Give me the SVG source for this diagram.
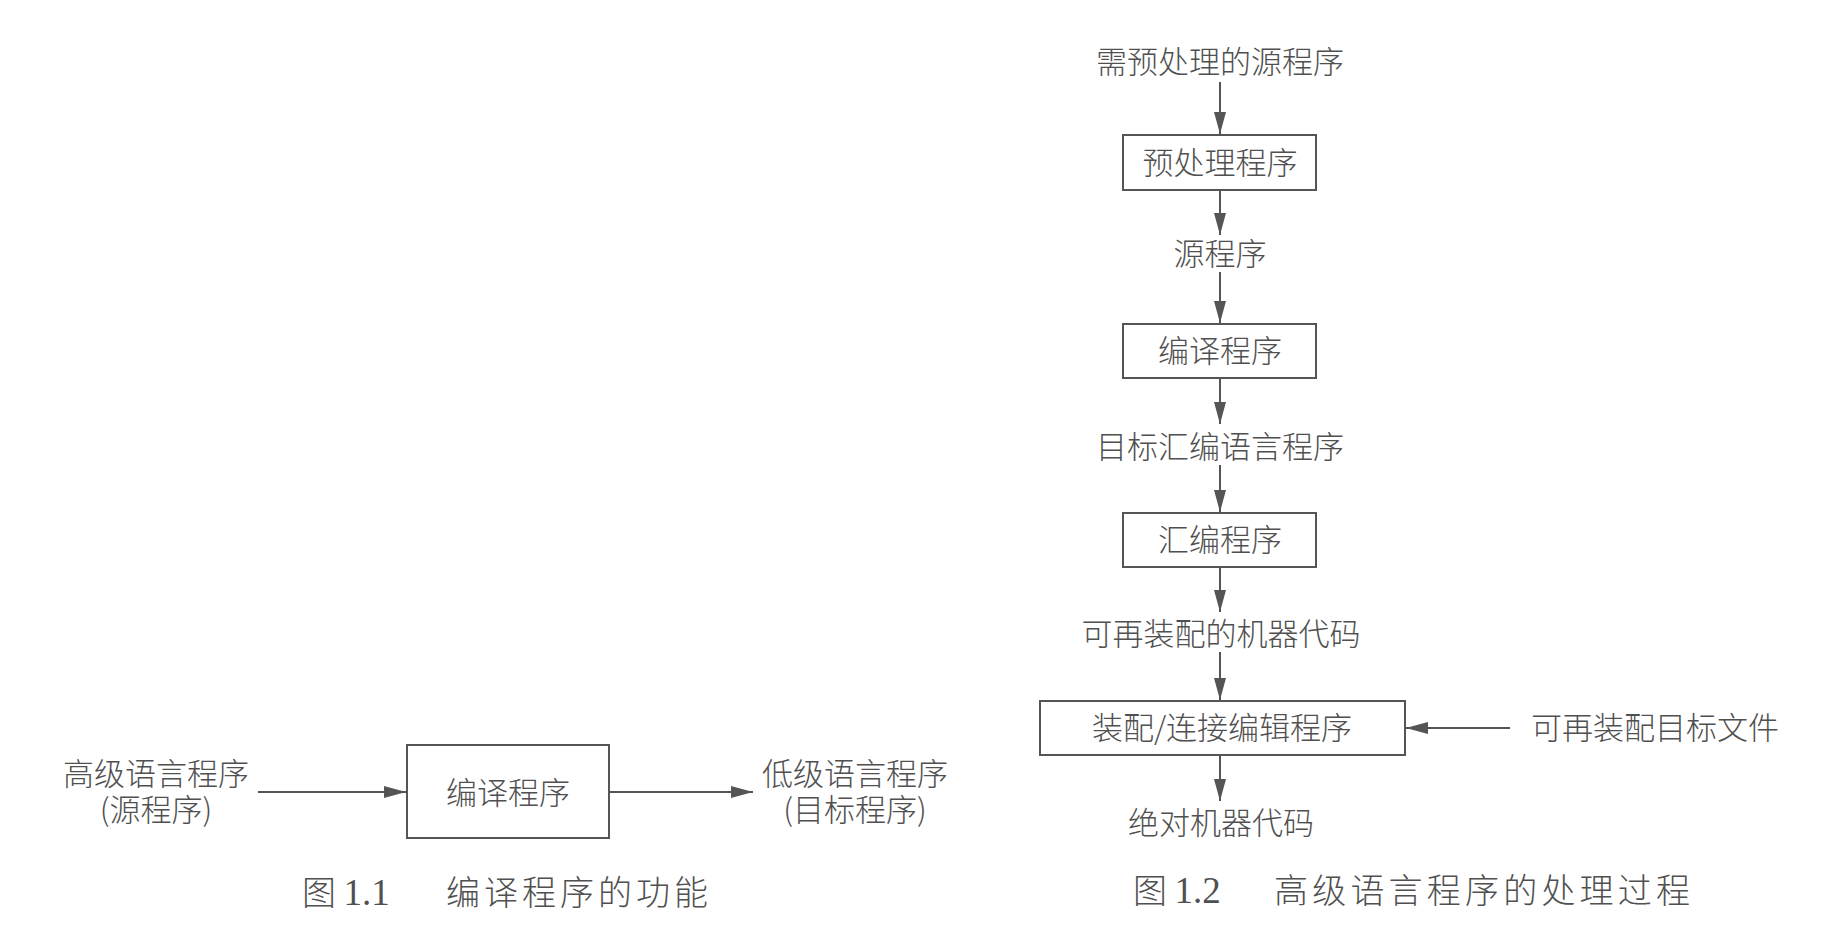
<svg xmlns="http://www.w3.org/2000/svg" width="1836" height="927" viewBox="0 0 1836 927">
<style>
text{font-family:"Noto Sans CJK SC","Noto Sans",sans-serif;font-size:31px;fill:#505050;text-anchor:middle;font-weight:300}
.cap{font-size:34px;text-anchor:start}
.num{font-family:"Liberation Serif",serif;font-size:37px}
.box{fill:none;stroke:#555;stroke-width:2}
.ln{stroke:#555;stroke-width:2;fill:none;marker-end:url(#ah)}
</style>
<defs>
<marker id="ah" markerUnits="userSpaceOnUse" markerWidth="24" markerHeight="12" refX="22" refY="6" orient="auto">
<path d="M0,0 L22,6 L0,12 Z" fill="#555"/>
</marker>
</defs>
<rect width="1836" height="927" fill="#fff"/>
<g id="connectors">
<line class="ln" x1="258" y1="792" x2="406" y2="792"/>
<line class="ln" x1="609" y1="792" x2="753" y2="792"/>
<line class="ln" x1="1220" y1="82" x2="1220" y2="134"/>
<line class="ln" x1="1220" y1="190" x2="1220" y2="235"/>
<line class="ln" x1="1220" y1="272" x2="1220" y2="323"/>
<line class="ln" x1="1220" y1="378" x2="1220" y2="424"/>
<line class="ln" x1="1220" y1="465" x2="1220" y2="512"/>
<line class="ln" x1="1220" y1="567" x2="1220" y2="612"/>
<line class="ln" x1="1220" y1="652" x2="1220" y2="700"/>
<line class="ln" x1="1510" y1="728" x2="1406" y2="728"/>
<line class="ln" x1="1220" y1="755" x2="1220" y2="801"/>
</g>
<g id="src1"><text x="156" y="785">高级语言程序<tspan x="156" y="821">(源程序)</tspan></text></g>
<g id="compiler1"><rect class="box" x="407" y="745" width="202" height="93"/><text x="508" y="804">编译程序</text></g>
<g id="tgt1"><text x="855" y="785">低级语言程序<tspan x="855" y="821">(目标程序)</tspan></text></g>
<g id="cap1"><text class="cap" x="302" y="905">图 <tspan class="num">1.1</tspan></text><text class="cap" x="446" y="905" textLength="262" lengthAdjust="spacing">编译程序的功能</text></g>
<g id="n_src_pre"><text x="1220" y="73">需预处理的源程序</text></g>
<g id="n_pre"><rect class="box" x="1123" y="135" width="193" height="55"/><text x="1220" y="174">预处理程序</text></g>
<g id="n_src"><text x="1220" y="265">源程序</text></g>
<g id="n_comp"><rect class="box" x="1123" y="324" width="193" height="54"/><text x="1220" y="362">编译程序</text></g>
<g id="n_asm_src"><text x="1220" y="458">目标汇编语言程序</text></g>
<g id="n_asm"><rect class="box" x="1123" y="513" width="193" height="54"/><text x="1220" y="551">汇编程序</text></g>
<g id="n_reloc"><text x="1221" y="645">可再装配的机器代码</text></g>
<g id="n_link"><rect class="box" x="1040" y="701" width="365" height="54"/><text x="1222" y="739">装配/连接编辑程序</text></g>
<g id="n_obj"><text x="1655" y="739">可再装配目标文件</text></g>
<g id="n_abs"><text x="1221" y="834">绝对机器代码</text></g>
<g id="cap2"><text class="cap" x="1133" y="903">图 <tspan class="num">1.2</tspan></text><text class="cap" x="1274" y="903" textLength="416" lengthAdjust="spacing">高级语言程序的处理过程</text></g>
</svg>
